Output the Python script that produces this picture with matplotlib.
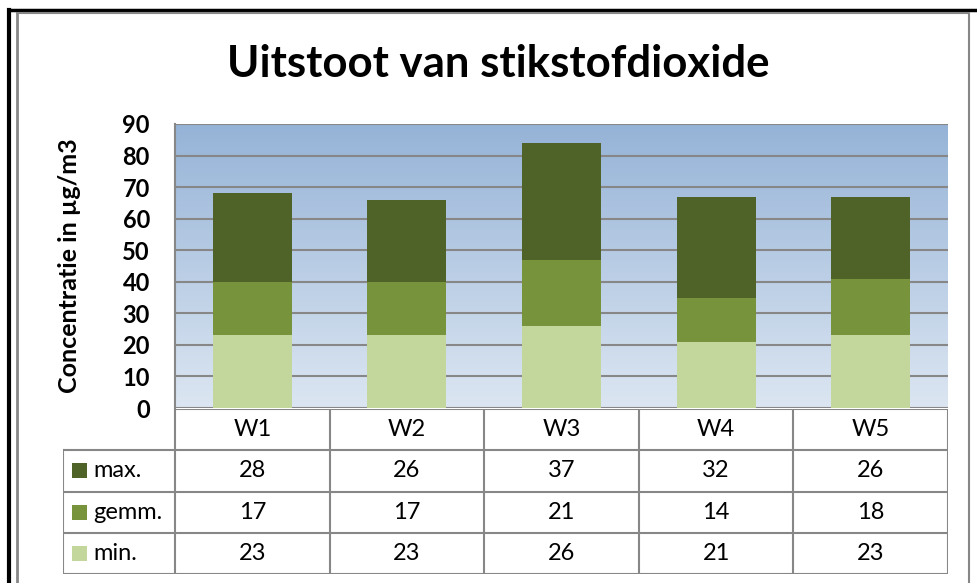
import numpy as np
import matplotlib.pyplot as plt
from matplotlib.colors import LinearSegmentedColormap
from matplotlib.patches import Rectangle

# data
weeks = ['W1', 'W2', 'W3', 'W4', 'W5']
val_min = [23, 23, 26, 21, 23]
val_gemm = [17, 17, 21, 14, 18]
val_max = [28, 26, 37, 32, 26]
series_names = ['max.', 'gemm.', 'min.']

c_max, c_gemm, c_min = '#4F6228', '#77933C', '#C3D69B'
grey = '#878787'

W, H = 978, 583
plt.rcParams['font.family'] = ['Lato', 'DejaVu Sans']
fig = plt.figure(figsize=(W / 100, H / 100), dpi=100)


def box(x0, y0, x1, y1):
    # pixel box (top-left origin) -> figure fraction
    return [x0 / W, 1 - y1 / H, (x1 - x0) / W, (y1 - y0) / H]


# outer frame
fr = fig.add_axes([0, 0, 1, 1], zorder=-5)
fr.set_xlim(0, W)
fr.set_ylim(H, 0)
fr.axis('off')
fr.plot([9, W], [10, 10], color='black', lw=2.5)
fr.plot([9, 9], [10, H], color='black', lw=3)
fr.plot([17, 969, 969], [12.5, 12.5, H], color=grey, lw=1.5)
fr.plot([17, 17], [12.5, H], color=grey, lw=2)

fig.text(498 / W, 1 - 64 / H, 'Uitstoot van stikstofdioxide',
         fontsize=31.5, fontweight='bold', ha='center', va='center')
fig.text(70 / W, 1 - 266 / H, 'Concentratie in µg/m3', rotation=90,
         fontsize=18, fontweight='bold', ha='center', va='center')

# bars
ax = fig.add_axes(box(175, 124, 948, 408))
x = np.arange(len(weeks))
cmap = LinearSegmentedColormap.from_list('bg', ['#DCE6F2', '#95B3D7'])
ax.imshow(np.linspace(0, 1, 256).reshape(-1, 1), extent=[-0.5, 4.5, 0, 90],
          aspect='auto', cmap=cmap, origin='lower', zorder=0)
bw = 0.51
ax.bar(x, val_min, bw, color=c_min, zorder=2)
ax.bar(x, val_gemm, bw, bottom=val_min, color=c_gemm, zorder=2)
ax.bar(x, val_max, bw, bottom=np.add(val_min, val_gemm), color=c_max, zorder=2)
ax.set_xlim(-0.5, 4.5)
ax.set_ylim(0, 90)
ax.set_yticks(range(0, 100, 10))
ax.yaxis.grid(True, color=grey, lw=1.5)
ax.set_axisbelow(True)
ax.set_xticks([])
ax.tick_params(axis='y', length=0, pad=18, labelsize=17)
for lab in ax.get_yticklabels():
    lab.set_fontweight('bold')
for s in ['top', 'right', 'bottom']:
    ax.spines[s].set_visible(False)
ax.spines['left'].set_color(grey)
ax.spines['left'].set_linewidth(1.5)

# data table
px = (948 - 175) / 5  # pixels per category
legw = (175 - 63) / px
left = -0.5 - legw
tax = fig.add_axes(box(63, 409, 948, 574))
tax.set_xlim(left, 4.5)
tax.set_ylim(4, 0)
tax.axis('off')
lkw = dict(color=grey, lw=1.5, solid_capstyle='projecting')
tax.plot([-0.5, 4.5], [0, 0], **lkw)
for r in range(1, 5):
    tax.plot([left, 4.5], [r, r], **lkw)
tax.plot([left, left], [1, 4], **lkw)
for c in range(6):
    tax.plot([c - 0.5, c - 0.5], [0, 4], **lkw)

fs = 17
for i, w in enumerate(weeks):
    tax.text(i, 0.5, w, ha='center', va='center', fontsize=fs)
rows = [(val_max, c_max), (val_gemm, c_gemm), (val_min, c_min)]
for r, (name, (vals, col)) in enumerate(zip(series_names, rows), start=1):
    sq = 15 / 41.25
    tax.add_patch(Rectangle((left + 9 / px, r + 0.5 - sq / 2), 15 / px, sq,
                            color=col, lw=0))
    tax.text(left + 30 / px, r + 0.5, name, ha='left', va='center', fontsize=fs)
    for i, v in enumerate(vals):
        tax.text(i, r + 0.5, str(v), ha='center', va='center', fontsize=fs)

fig.savefig('out.png', dpi=100)
